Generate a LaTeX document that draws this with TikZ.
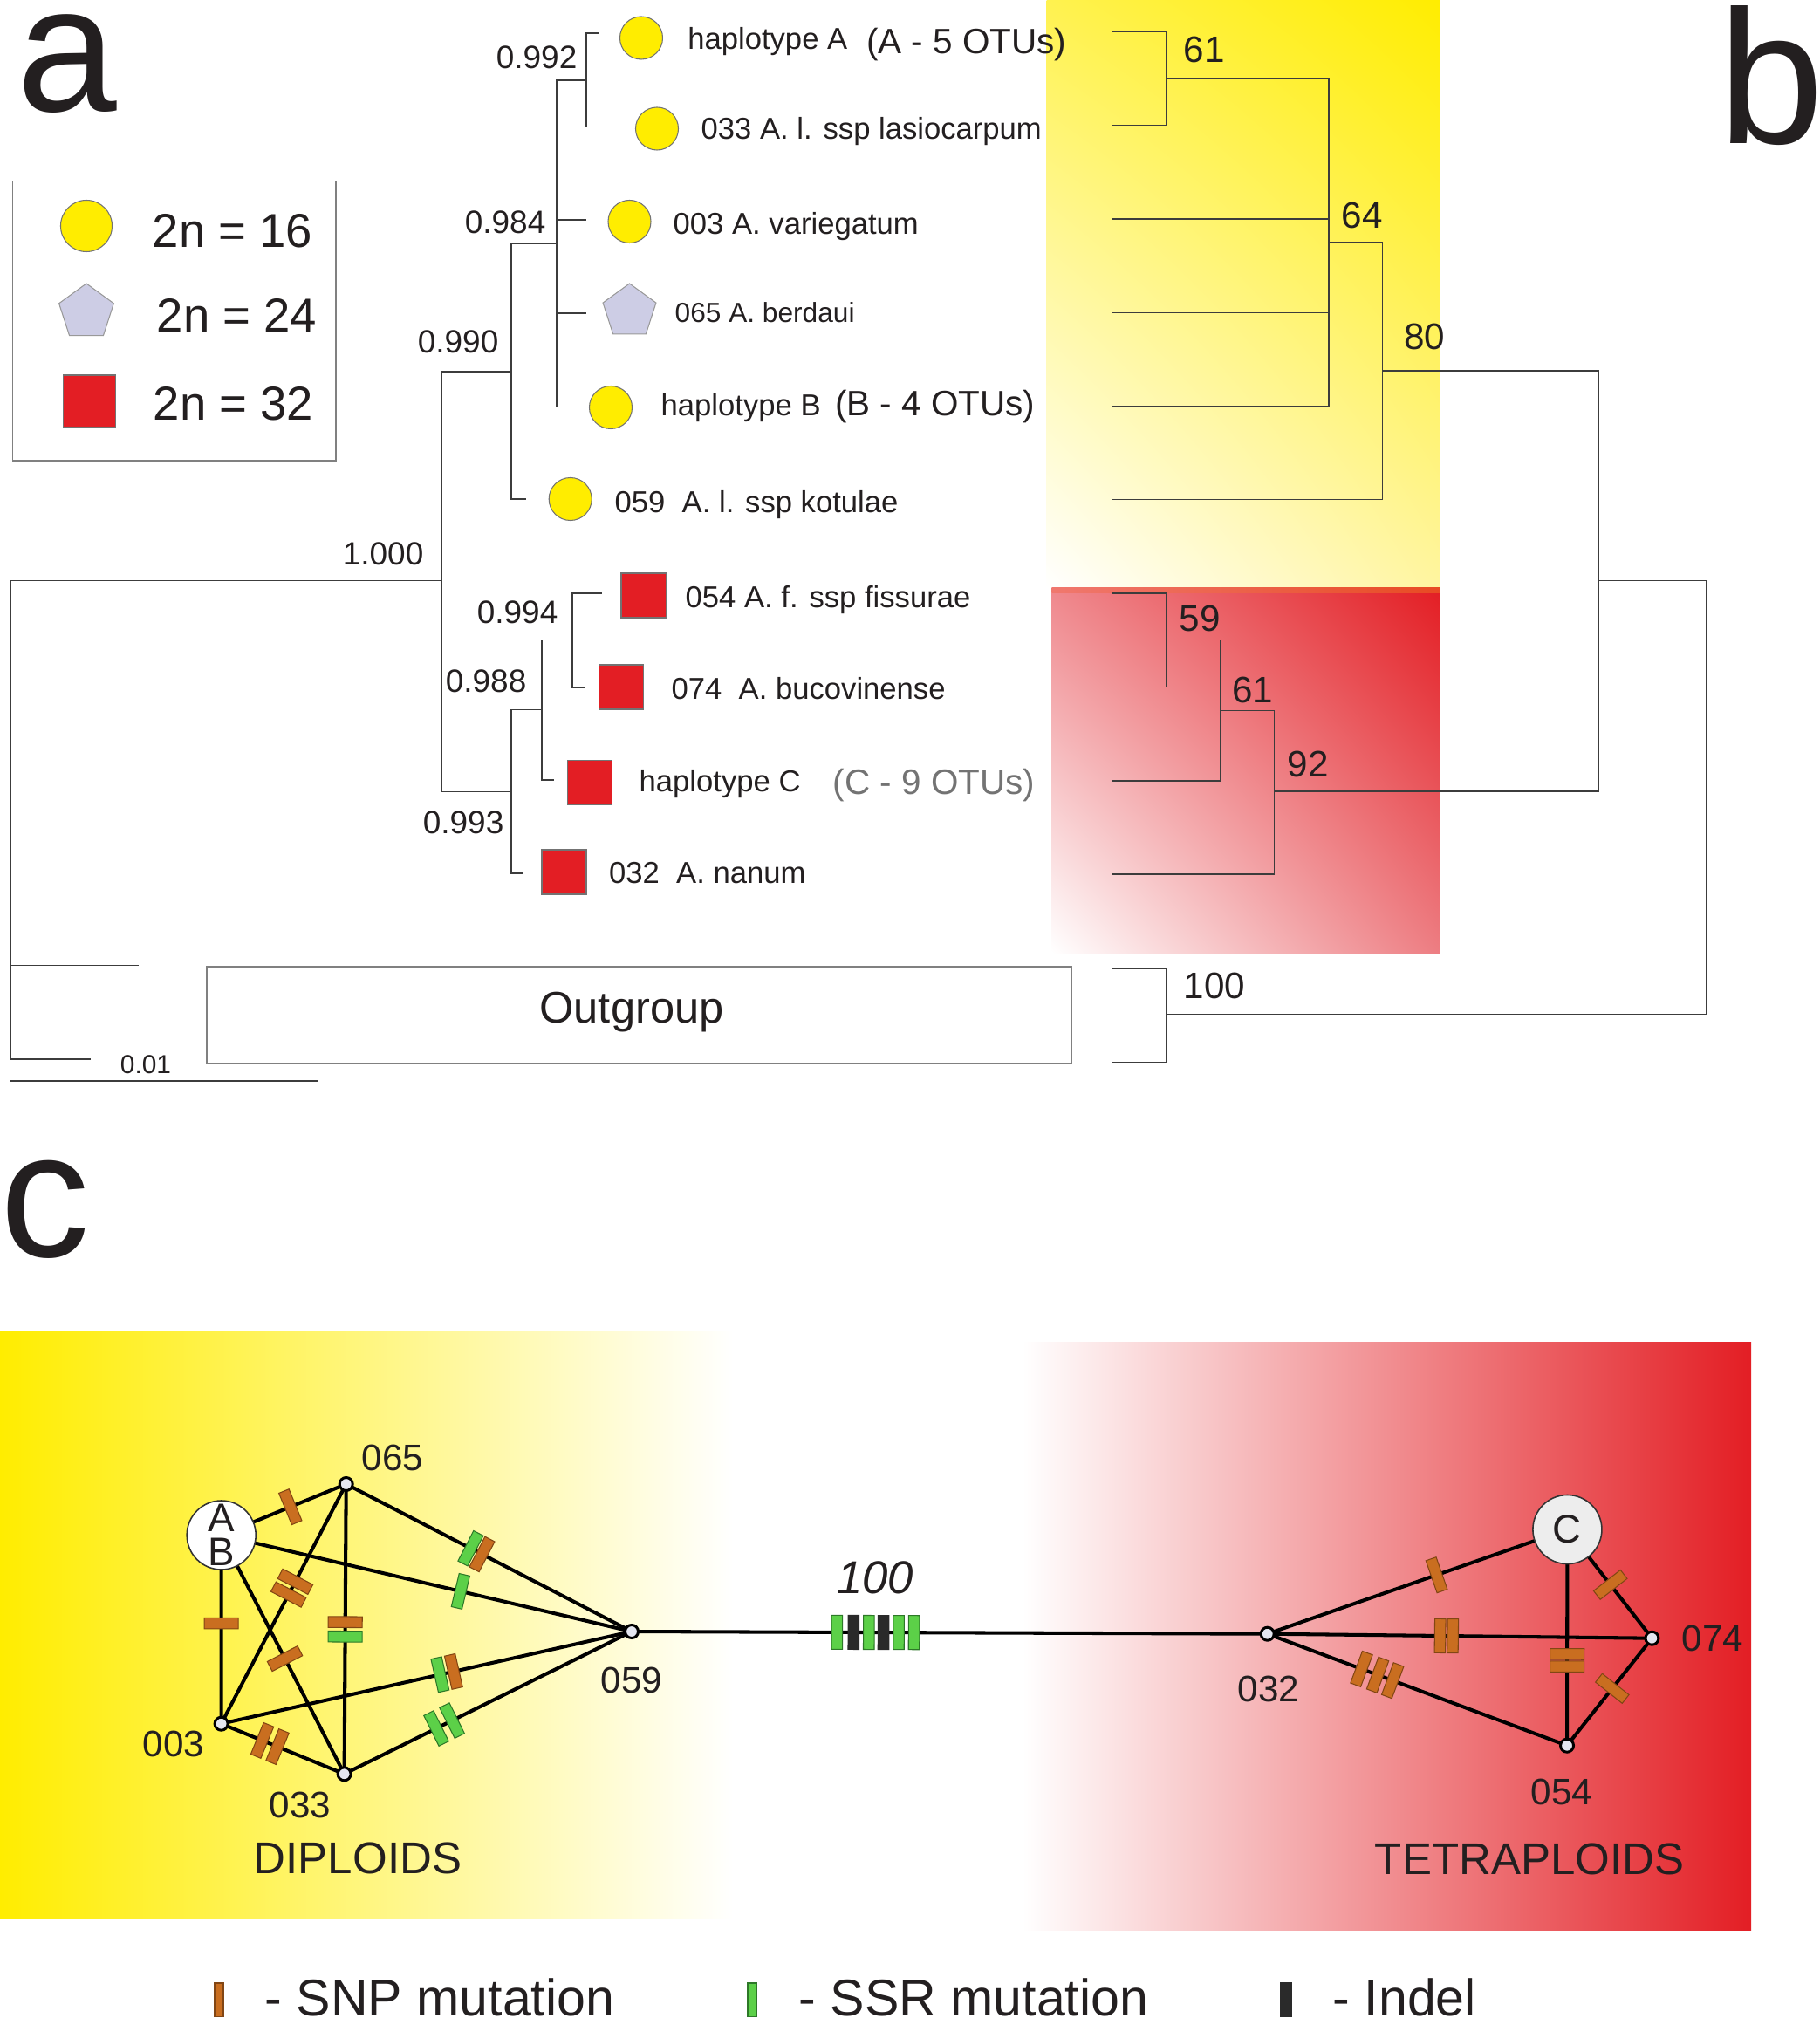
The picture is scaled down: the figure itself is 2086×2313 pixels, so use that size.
\documentclass[tikz,border=0pt]{standalone}
\usepackage{fontspec}
\setmainfont{Liberation Sans}
\usetikzlibrary{shapes.geometric,backgrounds,shadings}

\definecolor{txtGray}{RGB}{35,31,32}
\definecolor{lineGray}{RGB}{60,60,60}
\definecolor{dipYellow}{RGB}{255,237,0}
\definecolor{dipPaleA}{RGB}{255,242,80}
\definecolor{dipPaleB}{RGB}{255,245,160}
\definecolor{tetRed}{RGB}{227,30,36}
\definecolor{tetPaleA}{RGB}{239,135,140}
\definecolor{tetPaleB}{RGB}{237,125,130}
\definecolor{stripL}{RGB}{240,120,110}
\definecolor{stripR}{RGB}{232,75,35}
\definecolor{pentaFill}{RGB}{205,205,229}
\definecolor{vertexFill}{RGB}{228,230,240}
\definecolor{hapC}{RGB}{237,237,237}
\definecolor{snpOrange}{RGB}{201,110,32}
\definecolor{snpEdge}{RGB}{130,70,20}
\definecolor{ssrGreen}{RGB}{92,208,72}
\definecolor{ssrEdge}{RGB}{45,120,40}
\definecolor{indelBlack}{RGB}{42,42,42}

\newcommand{\fsz}[1]{\fontsize{#1}{#1}\selectfont}

\begin{document}
\begin{tikzpicture}
[x=0.01cm, y=-0.01cm,
  treeLine/.style={draw=lineGray, line width=0.45pt},
  leafLabel/.style={anchor=base west, inner sep=0pt, text=txtGray, font=\fsz{9.85}},
  otuLabel/.style={anchor=base west, inner sep=0pt, text=txtGray, font=\fsz{11.5}},
  postLabel/.style={anchor=base east, inner sep=0pt, text=txtGray, font=\fsz{10.5}},
  bootLabel/.style={anchor=base west, inner sep=0pt, text=txtGray, font=\fsz{12}},
  diploid/.style={circle, draw=black!55, line width=0.3pt, fill=dipYellow, minimum size=0.49cm, inner sep=0pt},
  triploid/.style={regular polygon, regular polygon sides=5, draw=black!40, line width=0.3pt, fill=pentaFill, minimum size=0.64cm, inner sep=0pt},
  tetraploid/.style={rectangle, draw=black!55, line width=0.3pt, fill=tetRed, minimum size=0.51cm, inner sep=0pt},
  netEdge/.style={draw=black, line width=1.15pt},
  netVertex/.style={circle, draw=black, line width=0.85pt, fill=vertexFill, minimum size=0.15cm, inner sep=0pt},
  hapNode/.style={circle, draw=black!80, line width=0.45pt, minimum size=0.79cm, inner sep=0pt, text=txtGray},
  netLabel/.style={anchor=base, inner sep=0pt, text=txtGray, font=\fsz{12}},
  mutBar/.style={sloped, rectangle, inner sep=0pt, minimum width=0.125cm, minimum height=0.39cm, line width=0.3pt},
  snpBar/.style={mutBar, fill=snpOrange, draw=snpEdge},
  ssrBar/.style={mutBar, fill=ssrGreen, draw=ssrEdge},
  indelBar/.style={mutBar, fill=indelBlack, draw=indelBlack},
  keyBar/.style={rectangle, inner sep=0pt, minimum width=0.1cm, minimum height=0.38cm, line width=0.3pt},
  keyText/.style={anchor=base west, inner sep=0pt, text=txtGray, font=\fsz{16.8}, text depth=0pt},
  panelLetter/.style={anchor=base west, inner sep=0pt, text=txtGray, text depth=0pt}]
\useasboundingbox (0,0) rectangle (2086,2313);

%% panel letters
\node[panelLetter, font=\fsz{58.6}, text height=0.55em] (panelA) at (19,128) {a};
\node[panelLetter, font=\fsz{62}, text height=0.74em] (panelB) at (1969,165) {b};
\node[panelLetter, font=\fsz{58.3}, text height=0.55em] (panelC) at (0,1440) {c};

%% ---------------- a: Bayesian tree ----------------
%% inner nodes and branch tips
\foreach \name/\x/\y in {
  i992/672/92, i984/638/279.6, i990/586/426, i1000/506/665.5,
  i993/586/907.6, i988/621/813.5, i994/656/733.5, rootA/12/940,
  tA/686/38, t033/708/145.5, t003/672/252, t065/672/359, tB/650/466.6,
  t059/603/572, t054/690/680, t074/670/788.6, tC/635/894, t032/600/1001,
  tOutA/159.4/1106.6, tOutB/103.6/1214}
{
  \coordinate (\name) at (\x,\y);
}
%% branches
\foreach \parent/\child in {
  i992/tA, i992/t033, i984/i992, i984/t003, i984/t065, i984/tB,
  i990/i984, i990/t059, i1000/i990, i1000/i993, i993/i988, i993/t032,
  i988/i994, i988/tC, i994/t054, i994/t074,
  rootA/i1000, rootA/tOutA, rootA/tOutB}
{
  \draw[treeLine] (\parent) |- (\child);
}
%% posterior probabilities
\foreach \name/\x/\y/\val in {
  pp992/662/79/0.992, pp984/626/268/0.984, pp990/572/405/0.990,
  pp1000/486/647.7/1.000, pp994/640/715/0.994, pp988/604/793.6/0.988,
  pp993/578/955/0.993}
{
  \node[postLabel] (\name) at (\x,\y) {\val};
}
%% chromosome number markers
\foreach \name/\x/\y/\kind in {
  mA/735/43.5/diploid, m033/753/147.5/diploid, m003/721.5/254/diploid,
  m065/721.5/357/triploid, mB/700/467/diploid, m059/653.7/572/diploid,
  m054/737.5/682.5/tetraploid, m074/712/787.5/tetraploid,
  mC/676/897/tetraploid, m032/646.5/999.5/tetraploid}
{
  \node[\kind] (\name) at (\x,\y) {};
}
%% taxon labels
\foreach \name/\x/\y/\txt in {
  labA/787.6/56.5/haplotype A,
  lab033/803/160/033 A. l. ssp lasiocarpum,
  lab003/771/269/003 A. variegatum,
  lab065/773/370/{\fsz{9}065 A. berdaui},
  labB/757/476.5/haplotype B,
  lab059/704/588/059\ \ A. l. ssp kotulae,
  lab054/785/697/054 A. f. ssp fissurae,
  lab074/769/801/074\ \ A. bucovinense,
  labC/732/907.6/haplotype C,
  lab032/697.5/1012.5/032\ \ A. nanum}
{
  \node[leafLabel] (\name) at (\x,\y) {\txt};
}
\node[otuLabel] (otuA) at (992.5,62) {(A - 5 OTUs)};
\node[otuLabel] (otuB) at (956.6,477) {(B - 4 OTUs)};
\node[otuLabel, text=black!55] (otuC) at (954,910) {(C - 9 OTUs)};

%% outgroup and scale
\draw[draw=black!50, line width=0.45pt] (237,1108) rectangle (1228,1218.6);
\node[anchor=base, inner sep=0pt, text=txtGray, font=\fsz{14.4}] (outgroup) at (724,1172) {Outgroup};
\draw[treeLine] (12,1239) -- (364,1239);
\node[anchor=base, inner sep=0pt, text=txtGray, font=\fsz{8.5}] (scale) at (167,1230) {0.01};

%% ploidy key
\draw[draw=black!50, line width=0.45pt] (14.3,207.6) rectangle (385,528);
\node[diploid, minimum size=0.59cm] (keyDip) at (99,259) {};
\node[triploid, minimum size=0.66cm] (keyTri) at (99,358) {};
\node[tetraploid, minimum size=0.6cm] (keyTet) at (102.5,460) {};
\foreach \name/\x/\y/\txt in {keyT16/174/284/2n = 16, keyT24/179/381/2n = 24, keyT32/175/481.6/2n = 32}
{
  \node[anchor=base west, inner sep=0pt, text=txtGray, font=\fsz{15.5}] (\name) at (\x,\y) {\txt};
}

%% ---------------- b: bootstrap tree ----------------
\foreach \name/\x/\y in {
  b61/1337/90, b64/1523/277.4, b80/1584.6/425, b59/1337/733.4,
  b61r/1399/814.7, b92/1460.4/907, b100/1337/1162.3,
  bJoin/1831.8/665.6, bRoot/1956/900,
  l1/1275.4/36, l2/1275.4/143.5, l3/1275.4/251, l4/1275.4/358.7,
  l5/1275.4/466, l6/1275.4/572.4, l7/1275.4/680, l8/1275.4/787.6,
  l9/1275.4/895, l10/1275.4/1002, l11/1275.4/1110.5, l12/1275.4/1217.3}
{
  \coordinate (\name) at (\x,\y);
}
\foreach \parent/\child in {
  b61/l1, b61/l2, b64/b61, b64/l3, b64/l4, b64/l5, b80/b64, b80/l6,
  bJoin/b80, bJoin/b92, b59/l7, b59/l8, b61r/b59, b61r/l9,
  b92/b61r, b92/l10, b100/l11, b100/l12, bRoot/bJoin, bRoot/b100}
{
  \draw[treeLine] (\parent) |- (\child);
}
\foreach \name/\x/\y/\val in {
  bs61/1356/71.7/61, bs64/1537/261.5/64, bs80/1608.5/401/80,
  bs59/1351/723/59, bs61r/1411.5/805/61, bs92/1475/890.5/92,
  bs100/1356/1144/100}
{
  \node[bootLabel] (\name) at (\x,\y) {\val};
}

%% ---------------- c: haplotype network ----------------
\node[hapNode, fill=white, align=center, font=\fontsize{13}{11}\selectfont] (AB) at (253.7,1759.5) {A\\B};
\node[hapNode, fill=hapC, font=\fsz{13}] (C) at (1796.4,1753) {C};
\foreach \name/\x/\y in {
  v065/396.7/1701, v003/253.6/1975.7, v033/394.6/2033.3, v059/724/1870,
  v032/1452.7/1872.7, v074/1893.4/1877.7, v054/1796/2000.7}
{
  \node[netVertex] (\name) at (\x,\y) {};
}
\foreach \name/\x/\y/\txt in {
  n065/450/1685/065, n003/199/2013/003, n033/344/2083/033, n059/724/1940/059,
  n032/1454/1950/032, n074/1963/1892/074, n054/1790/2068/054}
{
  \node[netLabel] (\name) at (\x,\y) {\txt};
}
\node[anchor=base, inner sep=0pt, text=txtGray, font=\fsz{15}\itshape] (boot100) at (1003,1826) {100};
\node[anchor=base, inner sep=0pt, text=txtGray, font=\fsz{14.5}] (diploids) at (410,2147) {DIPLOIDS};
\node[anchor=base, inner sep=0pt, text=txtGray, font=\fsz{14.5}] (tetraploids) at (1753,2148) {TETRAPLOIDS};

%% mutations
\foreach \from/\to/\p/\kind in {
  AB/v065/0.553/snpBar, AB/v003/0.468/snpBar, AB/v033/0.517/snpBar, AB/v059/0.583/ssrBar,
  v065/v003/0.407/snpBar, v065/v003/0.461/snpBar,
  v065/v033/0.476/snpBar, v065/v033/0.526/ssrBar,
  v065/v059/0.436/ssrBar, v065/v059/0.476/snpBar,
  v003/v033/0.333/snpBar, v003/v033/0.457/snpBar,
  v003/v059/0.533/ssrBar, v003/v059/0.566/snpBar,
  v033/v059/0.320/ssrBar, v033/v059/0.375/ssrBar,
  v059/v032/0.323/ssrBar, v059/v032/0.349/indelBar, v059/v032/0.373/ssrBar,
  v059/v032/0.396/indelBar, v059/v032/0.420/ssrBar, v059/v032/0.444/ssrBar,
  v032/C/0.564/snpBar,
  v032/v074/0.449/snpBar, v032/v074/0.482/snpBar,
  v032/v054/0.314/snpBar, v032/v054/0.368/snpBar, v032/v054/0.418/snpBar,
  C/v054/0.577/snpBar, C/v054/0.634/snpBar,
  C/v074/0.508/snpBar, v074/v054/0.468/snpBar}
{
  \path (\from.center) -- (\to.center) node[\kind, pos=\p] {};
}

%% mutation key
\node[keyBar, fill=snpOrange, draw=snpEdge] (keySnp) at (251,2292) {};
\node[keyBar, fill=ssrGreen, draw=ssrEdge] (keySsr) at (862,2292) {};
\node[keyBar, fill=indelBlack, draw=indelBlack, minimum width=0.12cm] (keyIndel) at (1474,2292) {};
\foreach \name/\x/\txt in {keyTSnp/303/- SNP mutation, keyTSsr/915/- SSR mutation, keyTIndel/1527/- Indel}
{
  \node[keyText] (\name) at (\x,2310) {\txt};
}

%% backgrounds and network edges
\begin{scope}[on background layer]
  \shade[upper left=dipPaleA, upper right=dipYellow, lower left=white, lower right=dipPaleB]
    (1199.5,0) rectangle (1650,673.6);
  \shade[upper left=tetPaleA, upper right=tetRed, lower left=white, lower right=tetPaleB]
    (1205.5,673.6) rectangle (1650,1092);
  \shade[left color=stripL, right color=stripR] (1205.5,673.6) rectangle (1650,680);
  \shade[left color=dipYellow, right color=white] (0,1525) rectangle (840,2198);
  \shade[left color=white, right color=tetRed] (1172,1538) rectangle (2007,2212);
  \foreach \from/\to in {
    AB/v065, AB/v003, AB/v033, AB/v059, v065/v003, v065/v033, v065/v059,
    v003/v033, v003/v059, v033/v059, v059/v032,
    v032/C, v032/v074, v032/v054, C/v054, C/v074, v074/v054}
  {
    \draw[netEdge] (\from.center) -- (\to.center);
  }
\end{scope}
\end{tikzpicture}
\end{document}
